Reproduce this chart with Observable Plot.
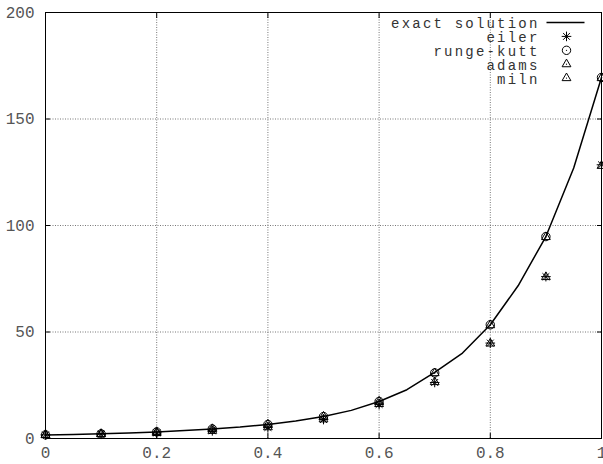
<!DOCTYPE html>
<html><head><meta charset="utf-8">
<script src="https://cdn.jsdelivr.net/npm/d3@7"></script>
<script src="https://cdn.jsdelivr.net/npm/@observablehq/plot@0.6"></script>
<style>body{margin:0;background:#fff} svg{display:block} .lgd text{letter-spacing:2.2px}</style>
</head><body><div id="chart"></div>
<script>
// numeric nodes (step 0.1)
const xNodes = [0, 0.1, 0.2, 0.3, 0.4, 0.5, 0.6, 0.7, 0.8, 0.9, 1];
// exact solution sampled at step 0.05
const exactX = [0, 0.05, 0.1, 0.15, 0.2, 0.25, 0.3, 0.35, 0.4, 0.45, 0.5, 0.55, 0.6, 0.65, 0.7, 0.75, 0.8, 0.85, 0.9, 0.95, 1];
const exactY = [1.7, 1.9, 2.2, 2.6, 3.1, 3.7, 4.5, 5.4, 6.6, 8.2, 10.3, 13.2, 17.4, 22.9, 31.0, 40.1, 53.4, 71.7, 94.8, 127.0, 169.5];
const eilerY = [1.7, 2.0, 2.6, 3.6, 5.2, 8.9, 16.0, 26.3, 44.8, 76.0, 128.5];
const rungeY = [1.7, 2.2, 3.1, 4.5, 6.6, 10.3, 17.4, 30.8, 53.4, 94.8, 169.5];
const adamsY = [1.7, 2.2, 3.1, 4.5, 6.6, 10.3, 17.4, 30.7, 53.2, 94.6, 169.2];
const milnY  = [1.7, 2.0, 2.6, 3.6, 5.3, 9.0, 16.2, 26.5, 44.6, 75.8, 128.0];
const xTicks = [0, 0.2, 0.4, 0.6, 0.8, 1];
const xTickLabels = ["0", "0.2", "0.4", "0.6", "0.8", "1"];
const yTicks = [0, 50, 100, 150, 200];
const yTickLabels = ["0", "50", "100", "150", "200"];
const legendLabels = ["exact solution", "eiler", "runge-kutt", "adams", "miln"];

const exact = exactX.map((x, i) => ({x, y: exactY[i]}));
const pts = arr => xNodes.map((x, i) => ({x, y: arr[i]}));

const lineSymbol = {draw(ctx) { ctx.moveTo(-19, 0); ctx.lineTo(19, 0); }};
const centerDot = {draw(ctx) { ctx.moveTo(0.6, 0); ctx.arc(0, 0, 0.6, 0, 2 * Math.PI); }};

function markersFor(data, kind) {
  const o = {x: "x", y: "y", stroke: "black", strokeWidth: 1, fill: "none"};
  if (kind === "asterisk") return [
    Plot.dot(data, {...o, symbol: "plus", r: 3.2}),
    Plot.dot(data, {...o, symbol: "times", r: 3.2})
  ];
  if (kind === "circle") return [
    Plot.dot(data, {...o, symbol: "circle", r: 4.2}),
    Plot.dot(data, {...o, symbol: centerDot, r: 1, fill: "black", stroke: "none"})
  ];
  return [
    Plot.dot(data, {...o, symbol: "triangle2", r: 4.2}),
    Plot.dot(data, {...o, symbol: centerDot, r: 1, fill: "black", stroke: "none"})
  ];
}

function legendRow(i, kind) {
  const dy = 10 + i * 13.9;
  const marks = [
    Plot.text([legendLabels[i]], {text: d => d, frameAnchor: "top-right", dx: -62, dy: dy + 1,
      textAnchor: "end", lineAnchor: "middle", fill: "#333", fontSize: 14,
      fontFamily: "Liberation Mono, monospace", className: "lgd"})
  ];
  const base = {frameAnchor: "top-right", dx: -35, dy, stroke: "black", fill: "none", strokeWidth: 1};
  if (kind === "line") marks.push(Plot.dot([0], {...base, dx: -36, symbol: lineSymbol, strokeWidth: 1.5}));
  else if (kind === "asterisk") marks.push(Plot.dot([0], {...base, symbol: "plus", r: 3.2}), Plot.dot([0], {...base, symbol: "times", r: 3.2}));
  else if (kind === "circle") marks.push(Plot.dot([0], {...base, symbol: "circle", r: 4.2}), Plot.dot([0], {...base, symbol: centerDot, fill: "black", stroke: "none"}));
  else marks.push(Plot.dot([0], {...base, symbol: "triangle2", r: 4.2}), Plot.dot([0], {...base, symbol: centerDot, fill: "black", stroke: "none"}));
  return marks;
}

const font = "Liberation Mono, monospace";
const chart = Plot.plot({
  width: 603, height: 464,
  marginLeft: 45, marginRight: 2, marginTop: 12, marginBottom: 26,
  style: {fontFamily: font, background: "white"},
  x: {domain: [0, 1]},
  y: {domain: [0, 200]},
  marks: [
    Plot.gridX(xTicks, {stroke: "#777", strokeOpacity: 1, strokeDasharray: "1,1.5"}),
    Plot.gridY(yTicks, {stroke: "#777", strokeOpacity: 1, strokeDasharray: "1,1.5"}),
    Plot.axisX(xTicks, {anchor: "bottom", tickSize: -5, tickPadding: 13.5, tickFormat: (d, i) => xTickLabels[i],
      fontSize: 16, fill: "#555", stroke: "black", label: null}),
    Plot.axisX(xTicks, {anchor: "top", tickSize: -5, tickFormat: () => "", label: null}),
    Plot.axisY(yTicks, {anchor: "left", tickSize: -5, tickPadding: 16, tickFormat: (d, i) => yTickLabels[i],
      fontSize: 16, fill: "#555", label: null}),
    Plot.axisY(yTicks, {anchor: "right", tickSize: -5, tickFormat: () => "", label: null}),
    Plot.frame({stroke: "black"}),
    Plot.line(exact, {x: "x", y: "y", stroke: "black", strokeWidth: 1.5}),
    ...markersFor(pts(eilerY), "asterisk"),
    ...markersFor(pts(rungeY), "circle"),
    ...markersFor(pts(adamsY), "triangle"),
    ...markersFor(pts(milnY), "triangle"),
    ...legendRow(0, "line"),
    ...legendRow(1, "asterisk"),
    ...legendRow(2, "circle"),
    ...legendRow(3, "triangle"),
    ...legendRow(4, "triangle")
  ]
});
document.getElementById("chart").appendChild(chart);
</script>
</body></html>
